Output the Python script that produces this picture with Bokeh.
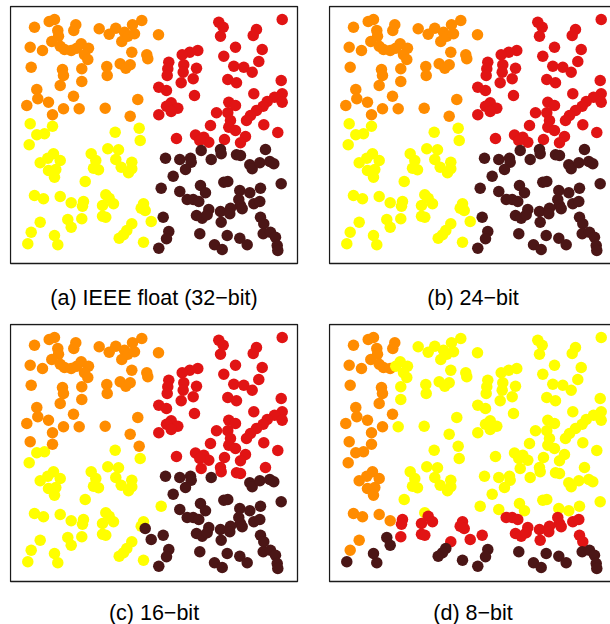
from bokeh.plotting import figure
from bokeh.models import Range1d, ColumnDataSource, Label, BoxAnnotation
from bokeh.layouts import column, row
from bokeh.embed import file_html
from bokeh.resources import INLINE

# ---- point coordinates (same points in every panel) ----
orange_x = [24, 38.7, 44, 47.3, 48, 63.3, 65.3, 88.7, 98.7, 105.3,
            114, 111.3, 117.3, 122, 131.3, 124, 148, 19.7, 32, 41.3,
            49.7, 54, 60.7, 66.3, 70.7, 78, 74, 77.3, 121.3, 136.3,
            137.3, 20.7, 52, 53, 71.3, 96.3, 96.7, 109.7, 115.3, 119.7,
            49.7, 71.3, 26.3, 27.3, 38, 16.3, 63, 53, 68.7, 42,
            94.7, 127.3, 119.7]
orange_y = [236.3, 242, 244, 233, 227.3, 233, 238.7, 234.7, 229.3, 235.3,
            231.3, 222, 227.3, 238.7, 243, 229.7, 228.7, 216.3, 213, 222,
            217.3, 214, 213, 215.3, 219.7, 215.3, 208.7, 204, 211.3, 208.7,
            204.7, 196.3, 194, 188, 194.7, 197, 188, 199.7, 195.3, 198.7,
            178, 182, 174, 164.7, 161.3, 158, 167.3, 154.7, 154.7, 148.7,
            155.3, 164, 147.3]

yellow_x = [19.7, 26.3, 34, 42, 104.7, 128.7, 129.7, 18.7, 43, 37.3,
            29.7, 49.7, 38, 45.3, 44, 80.7, 85.3, 83, 88, 97.3,
            108, 105.3, 110.7, 121.3, 121.3, 118, 74.7, 24, 33, 49.7,
            60.7, 73, 72, 95.3, 98.7, 92, 103, 92, 95.3, 71.3,
            57.3, 60.7, 29.7, 20.7, 17.3, 44, 47.3, 133, 130.7, 134.7,
            140.7, 121.3, 116.3, 113, 108.7, 133]
yellow_y = [139.7, 128.7, 129.7, 137.3, 131.3, 135.3, 123, 118.7, 109.7, 105.3,
            100.7, 103, 93, 94, 86.3, 109.7, 103, 95.3, 93.7, 114.7,
            113.7, 104, 96.3, 101.3, 94.7, 90.7, 82, 68, 64.7, 67,
            60.7, 62, 57.3, 68.7, 65.3, 58, 59.7, 47.3, 46.3, 44.7,
            44, 36.3, 41.3, 31.3, 19.7, 28, 18.7, 59.7, 55.3, 53,
            42, 39.7, 33, 28.7, 25.3, 21.3]

red_x = [208.3, 212.7, 210, 271.7, 246, 242.7, 225, 213.3, 251.7, 248.3,
         223.3, 233.3, 241.7, 217.3, 226, 270.7, 187.3, 179.3, 171.7, 158.3,
         157.3, 156.7, 173.3, 172.7, 186, 182.7, 170.7, 148.3, 156, 184,
         160.7, 156, 167.3, 160.7, 148.3, 243.3, 271.7, 264, 271.7, 256.7,
         252.7, 218.3, 225, 206, 217.3, 246, 240, 236, 220, 200,
         218.3, 253.3, 225, 235, 267.3, 185, 166, 193.3, 198.3, 214,
         230, 189.3]
red_y = [241.3, 236.3, 227.3, 244, 234, 228, 216.3, 207.3, 214, 202,
         197.3, 196.3, 191.3, 184, 180.7, 183, 213, 211.3, 208.7, 201.3,
         194.7, 188, 198.7, 191.3, 195.3, 184.7, 180.7, 176.3, 173, 168,
         160.7, 157.3, 155.3, 152, 148.7, 169.7, 169.7, 166.3, 161.3, 162,
         157.3, 161.3, 158, 150.7, 150.7, 153, 148, 143, 143, 138,
         136.3, 138.7, 133, 127, 131, 128.5, 125, 126.3, 121.3, 124,
         120.7, 123]

dark_x = [190.7, 210, 210.7, 226, 230, 255, 155, 169.3, 180, 180.7,
          200.7, 175, 239.3, 241.7, 249.3, 259.3, 263.3, 162.7, 150.7, 169.3,
          190, 195, 213.3, 217.3, 229.3, 239.3, 250, 270.7, 176.7, 182.7,
          188.3, 228.3, 230, 243.3, 249.3, 198.3, 186, 191.7, 196.7, 210,
          220, 219.3, 231.7, 250, 253.3, 152.7, 210.7, 158.3, 156, 148.3,
          189.3, 216.7, 204, 211.7, 229.3, 236.7, 252.7, 260, 265, 266.7,
          267.3]
dark_y = [113, 114, 109.7, 108.7, 108, 114, 105.3, 104, 105.3, 101.3,
          104, 94, 98.7, 94.7, 100.7, 102, 99.7, 87.3, 75.3, 72,
          78, 70.7, 81.3, 82, 73, 70.7, 75.3, 79.7, 64, 64,
          62, 64, 58, 59.7, 62, 54, 48, 45.3, 48.7, 52,
          55.3, 49.7, 54.7, 46.3, 39.7, 46.3, 41.3, 32, 24.7, 15.3,
          29.7, 28, 18.7, 14, 25.3, 18.7, 29.7, 31.3, 26.3, 18,
          13]

# ---- cluster labels per panel (one char per point, same order) ----
lab_a = ("O" * 53) + ("Y" * 56) + ("R" * 62) + ("D" * 61)
lab_b = ("O" * 53) + ("Y" * 56) + ("R" * 62) + ("D" * 61)
lab_c = (("O" * 53)
         + "OYYOYO" + ("Y" * 43) + "DD" + "YYYYY"
         + ("R" * 62)
         + "RRRRRR" + ("D" * 12) + "Y" + ("D" * 42))
lab_d = ("OOOOOOO" + "YYYYYYYYYY" + "OOOOOO" + "YYYYYYYY" + "OOO" + "YYYYYY"
         + "O" + "Y" + "OOOOOO" + "Y" + "O" + "YYY"
         + "OOOO" + "YYY" + "O" + "OOOOOOO" + "YYYYYYYYYYYY" + "OOOO" + "RR" + "Y"
         + "R" + "RRRRR" + "DD" + "OO" + "DDD" + "RRRRR" + "DDDD"
         + ("Y" * 62)
         + ("Y" * 28) + ("R" * 19) + ("D" * 14))

captions = ["(a) IEEE float (32\u2212bit)", "(b) 24\u2212bit", "(c) 16\u2212bit", "(d) 8\u2212bit"]
palette = {"O": "#FF8C00", "Y": "#FFFF00", "R": "#E11414", "D": "#4B1616"}

# plot box of each panel in data units
BOX_W, BOX_H = 287, 257

xs = orange_x + yellow_x + red_x + dark_x
ys = orange_y + yellow_y + red_y + dark_y


def panel(labels, caption, width, height, left, xmax, ymin, cap_y):
    p = figure(width=width, height=height, output_backend="svg", toolbar_location=None,
               x_axis_location=None, y_axis_location=None,
               x_range=Range1d(-1, xmax), y_range=Range1d(ymin, BOX_H + 1),
               min_border_left=left, min_border_right=0,
               min_border_top=5, min_border_bottom=0,
               background_fill_color="white", border_fill_color="white",
               outline_line_color=None)
    p.grid.visible = False
    src = ColumnDataSource(dict(x=xs, y=ys, c=[palette[k] for k in labels]))
    p.scatter("x", "y", source=src, size=11.5, fill_color="c", line_color=None)
    p.add_layout(BoxAnnotation(left=0, right=BOX_W, bottom=0, top=BOX_H,
                               fill_alpha=0, line_color="#1a1a1a", line_alpha=1.0,
                               line_width=1.3))
    p.add_layout(Label(x=BOX_W / 2, y=cap_y, text=caption, text_align="center",
                       text_baseline="middle", text_font="Liberation Sans",
                       text_font_size="21.5px", text_color="black"))
    return p


# frame widths equal range spans so one data unit is one pixel
pa = panel(lab_a, captions[0], 328, 318, 9, 318, -55, -34)
pb = panel(lab_b, captions[1], 282, 318, 0, 281, -55, -34)
pc = panel(lab_c, captions[2], 328, 306, 9, 318, -43, -31)
pd = panel(lab_d, captions[3], 282, 306, 0, 281, -43, -31)

layout = column(row(pa, pb), row(pc, pd))
open("out.html", "w").write(file_html(layout, INLINE))
